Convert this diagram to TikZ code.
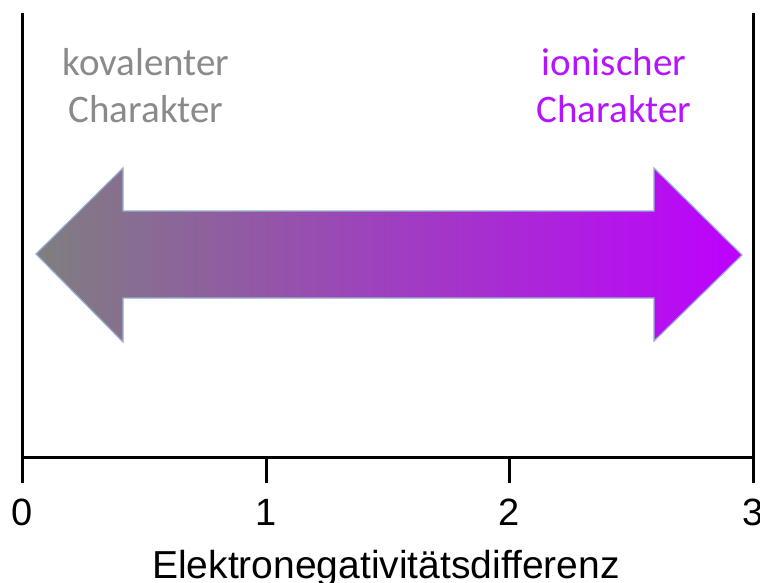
\documentclass[tikz,border=0pt]{standalone}
\usepackage{fontspec}
\setmainfont{Liberation Sans}
\newfontfamily\calib{Carlito}
\definecolor{leftgray}{RGB}{127,127,127}
\definecolor{rightpurple}{RGB}{190,0,255}
\definecolor{kovtext}{RGB}{138,138,138}
\definecolor{iontext}{RGB}{180,20,255}
\definecolor{edgeblue}{RGB}{150,175,210}
\begin{document}
\begin{tikzpicture}[x=1pt,y=-1pt,
  axisline/.style={line width=3pt,black},
  ticklabel/.style={font=\fontsize{38}{40}\selectfont,anchor=base,inner sep=0pt},
  titlelabel/.style={font=\fontsize{39}{42}\selectfont,anchor=base,inner sep=0pt},
  charlabel/.style={font=\calib\fontsize{39}{47}\selectfont,align=center,anchor=base,inner sep=0pt}]
\useasboundingbox (0,0) rectangle (760,583);
\fill[white] (0,0) rectangle (760,583);
% axis frame
\coordinate (ltop) at (22,13);
\coordinate (lbot) at (22,483);
\coordinate (rtop) at (753,13);
\coordinate (rbot) at (753,483);
\coordinate (a0) at (22,457);
\coordinate (a3) at (753,457);
\coordinate (t1a) at (266,457);
\coordinate (t1b) at (266,483);
\coordinate (t2a) at (509,457);
\coordinate (t2b) at (509,483);
\draw[axisline] (ltop) -- (lbot);
\draw[axisline] (rtop) -- (rbot);
\draw[axisline] (a0) -- (a3);
\draw[axisline] (t1a) -- (t1b);
\draw[axisline] (t2a) -- (t2b);
% tick labels
\node[ticklabel] (l0) at (22,525) {0};
\node[ticklabel] (l1) at (266,525) {1};
\node[ticklabel] (l2) at (509,525) {2};
\node[ticklabel] (l3) at (753,525) {3};
\node[titlelabel] (title) at (386,578) {Elektronegativitätsdifferenz};
% double arrow
\path[draw=edgeblue,line width=1.2pt,left color=leftgray,right color=rightpurple]
  (36,254) -- (123,168) -- (123,211) -- (654,211) -- (654,168) -- (742,255)
  -- (654,341) -- (654,298) -- (123,298) -- (123,342) -- cycle;
% character labels (base = baseline of the last line)
\node[charlabel,text=kovtext] (kov) at (146,123) {kovalenter\\Charakter};
\node[charlabel,text=iontext] (ion) at (614,123) {ionischer\\Charakter};
\end{tikzpicture}
\end{document}
